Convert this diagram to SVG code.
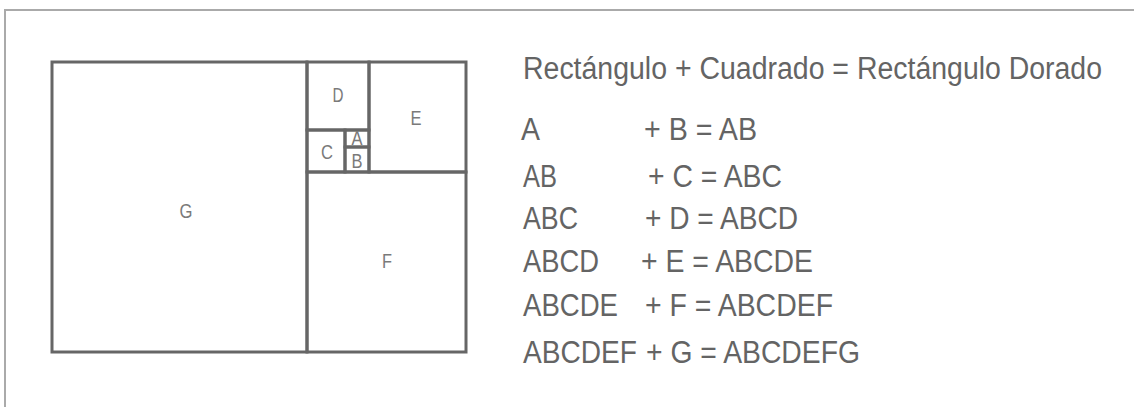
<svg xmlns="http://www.w3.org/2000/svg" width="1134" height="407" viewBox="0 0 1134 407">
<style>
.sq{fill:none;stroke:#666;stroke-width:3}
.lbl{font-family:"Liberation Sans",Arial,sans-serif;font-size:20px;fill:#7a7a7a;text-anchor:middle}
.eq{font-family:"Liberation Sans",Arial,sans-serif;font-size:31px;fill:#646464}
</style>
<rect width="1134" height="407" fill="#fff"/>
<path d="M5,408 V10 H1135" fill="none" stroke="#aaa" stroke-width="2"/>
<g id="G"><rect class="sq" x="52" y="62" width="255" height="290"/><text class="lbl" x="186" y="218" textLength="13" lengthAdjust="spacingAndGlyphs">G</text></g>
<g id="F"><rect class="sq" x="307" y="172" width="159" height="180"/><text class="lbl" x="387" y="268" textLength="10" lengthAdjust="spacingAndGlyphs">F</text></g>
<g id="E"><rect class="sq" x="369" y="62" width="97" height="110"/><text class="lbl" x="416" y="125" textLength="11" lengthAdjust="spacingAndGlyphs">E</text></g>
<g id="D"><rect class="sq" x="307" y="62" width="62" height="68"/><text class="lbl" x="338" y="102" textLength="11" lengthAdjust="spacingAndGlyphs">D</text></g>
<g id="C"><rect class="sq" x="307" y="130" width="38" height="42"/><text class="lbl" x="327" y="159" textLength="12" lengthAdjust="spacingAndGlyphs">C</text></g>
<g id="A"><rect class="sq" x="345" y="130" width="24" height="17"/><text class="lbl" x="357" y="145" font-size="17" textLength="11" lengthAdjust="spacingAndGlyphs">A</text></g>
<g id="B"><rect class="sq" x="345" y="147" width="24" height="25"/><text class="lbl" x="357" y="168" textLength="11" lengthAdjust="spacingAndGlyphs">B</text></g>
<g id="connectors"/>
<g id="equations">
<text class="eq" x="523" y="79" font-size="29" textLength="326" lengthAdjust="spacingAndGlyphs">Rectángulo + Cuadrado =</text>
<text class="eq" x="857" y="79" font-size="29" textLength="245" lengthAdjust="spacingAndGlyphs">Rectángulo Dorado</text>
<text class="eq" x="521" y="140" textLength="19" lengthAdjust="spacingAndGlyphs">A</text>
<text class="eq" x="644" y="140" textLength="113" lengthAdjust="spacingAndGlyphs">+ B = AB</text>
<text class="eq" x="523" y="187" textLength="34" lengthAdjust="spacingAndGlyphs">AB</text>
<text class="eq" x="648" y="187" textLength="134" lengthAdjust="spacingAndGlyphs">+ C = ABC</text>
<text class="eq" x="523" y="229" textLength="55" lengthAdjust="spacingAndGlyphs">ABC</text>
<text class="eq" x="645" y="229" textLength="153" lengthAdjust="spacingAndGlyphs">+ D = ABCD</text>
<text class="eq" x="523" y="272" textLength="76" lengthAdjust="spacingAndGlyphs">ABCD</text>
<text class="eq" x="641" y="272" textLength="172" lengthAdjust="spacingAndGlyphs">+ E = ABCDE</text>
<text class="eq" x="523" y="316" textLength="95" lengthAdjust="spacingAndGlyphs">ABCDE</text>
<text class="eq" x="645" y="316" textLength="188" lengthAdjust="spacingAndGlyphs">+ F = ABCDEF</text>
<text class="eq" x="523" y="363" textLength="114" lengthAdjust="spacingAndGlyphs">ABCDEF</text>
<text class="eq" x="646" y="363" textLength="214" lengthAdjust="spacingAndGlyphs">+ G = ABCDEFG</text>
</g>
</svg>
